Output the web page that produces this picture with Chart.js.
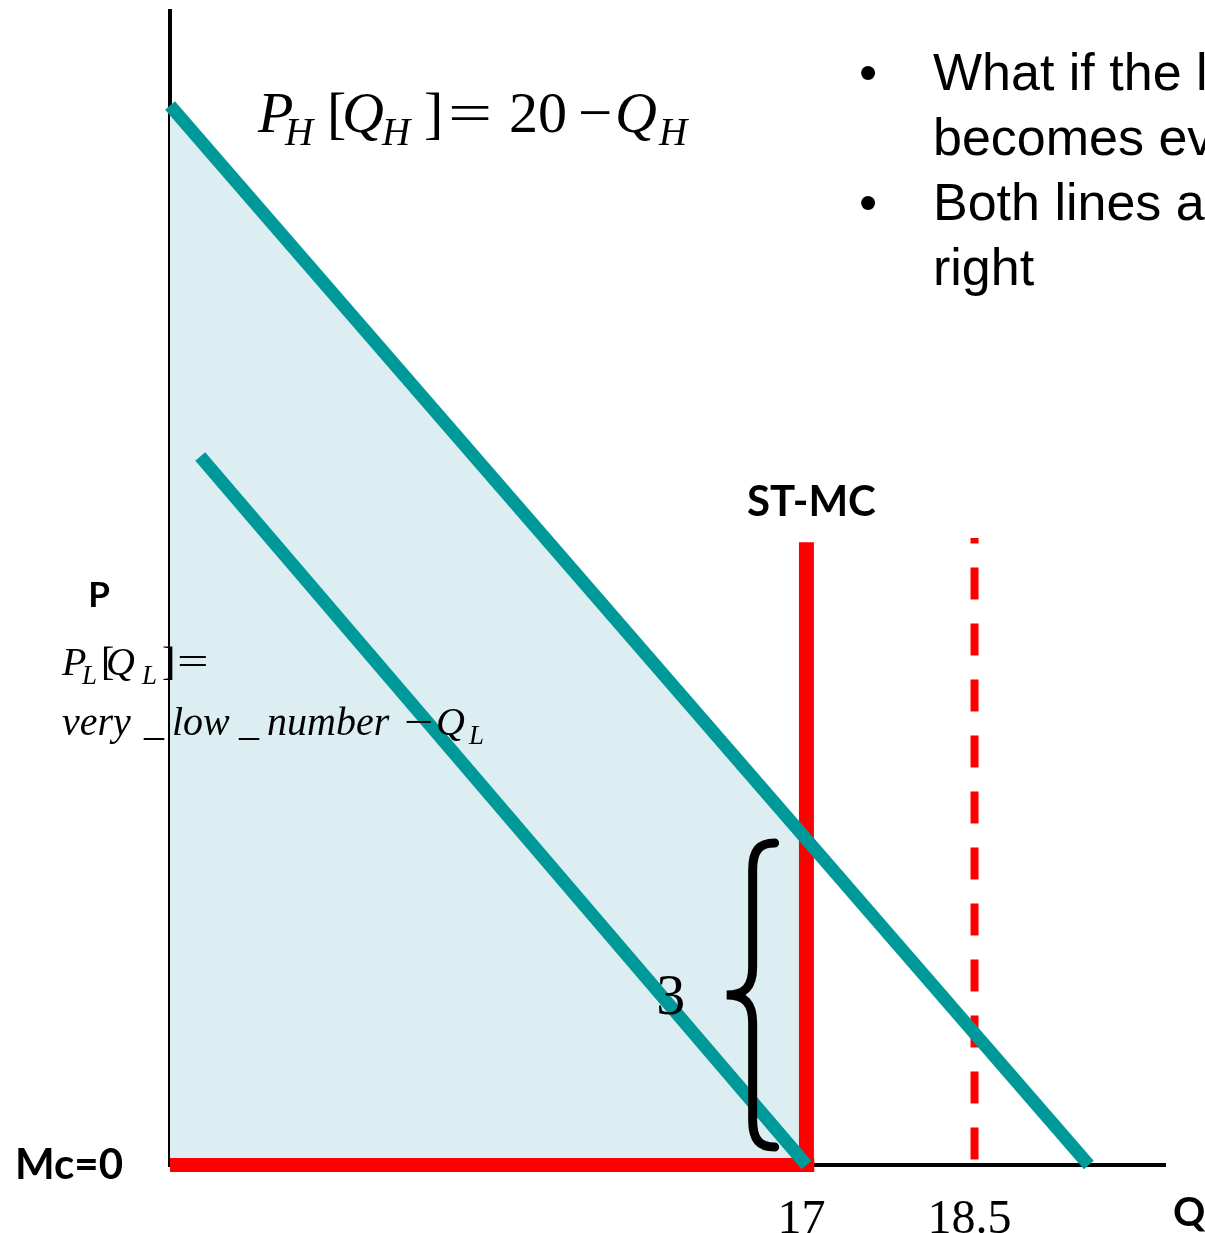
<!DOCTYPE html>
<html>
<head>
<meta charset="utf-8">
<title>Peak-load pricing: high and low demand</title>
<script src="https://cdn.jsdelivr.net/npm/chart.js@4.4.1/dist/chart.umd.min.js"></script>
<style>
  html, body { margin: 0; padding: 0; background: #fff; }
  #wrap { position: relative; width: 1205px; height: 1233px; }
</style>
</head>
<body>
<div id="wrap"><canvas id="chart"></canvas></div>
<script>
// Quantity (Q) and price (P) values of each line, in axis units
const qTicks = [17, 18.5];
const priceTicks = [0];
const priceTickLabels = ['Mc=0'];

const highDemandQ = [11.32, 19.52];
const highDemandP = [9.75, 0];
const lowDemandQ = [11.59, 17];
const lowDemandP = [6.52, 0];
const surplusQ = [11.32, 17];
const surplusP = [9.75, 3];
const stMcQ = [17, 17];
const stMcP = [0, 5.73];
const newMcQ = [18.5, 18.5];
const newMcP = [0.05, 5.77];
const mcZeroQ = [11.32, 17.07];
const mcZeroP = [0, 0];

// gap between high demand and ST-MC at capacity
const gapQ = 16.52;
const gapRange = [0, 3];

const bullets = [
    ['\u2022', 'What if the low demand'],
    ['', 'becomes even lower?'],
    ['\u2022', 'Both lines are shifted to the'],
    ['', 'right']
];

const TEAL = '#009999';
const RED = '#ff0000';
const SURPLUS = '#dceef1';

function points(qs, ps) {
    return qs.map((q, i) => ({ x: q, y: ps[i] }));
}

function line(data, color, width, extra) {
    return Object.assign({
        data: data,
        borderColor: color,
        borderWidth: width,
        borderCapStyle: 'butt',
        pointRadius: 0,
        fill: false,
        tension: 0,
        clip: false
    }, extra || {});
}

// draws a run of math text pieces: [text, style, dx, horizontal stretch]
function drawRuns(ctx, x0, base, size, runs) {
    runs.forEach(([text, kind, dx, sx]) => {
        const sub = kind === 'sub';
        const s = sub ? Math.round(size * 0.68) : size;
        ctx.font = (kind === 'r' ? '' : 'italic ') + s + 'px "Liberation Serif"';
        ctx.save();
        ctx.translate(x0 + dx, base + (sub ? size * 0.22 : 0));
        ctx.scale(sx || 1, 1);
        ctx.fillText(text, 0, 0);
        ctx.restore();
    });
}

const annotations = {
    id: 'annotations',
    afterDatasetsDraw(chart) {
        const ctx = chart.ctx;
        const x = chart.scales.x;
        const y = chart.scales.y;
        ctx.save();
        ctx.fillStyle = '#000';
        ctx.strokeStyle = '#000';
        ctx.textAlign = 'left';
        ctx.textBaseline = 'alphabetic';

        // high demand equation
        drawRuns(ctx, 258, 132, 58, [
            ['P', 'i', 0], ['H', 'sub', 27], ['[', 'r', 69], ['Q', 'i', 84],
            ['H', 'sub', 124], [']', 'r', 166], ['=', 'r', 190, 1.35], ['20', 'r', 251],
            ['\u2212', 'r', 320, 1.05], ['Q', 'i', 357], ['H', 'sub', 401]
        ]);

        // low demand equation
        drawRuns(ctx, 62, 675, 40, [
            ['P', 'i', 0], ['L', 'sub', 20], ['[', 'r', 39], ['Q', 'i', 44],
            ['L', 'sub', 80], [']', 'r', 100], ['=', 'r', 115, 1.4]
        ]);
        drawRuns(ctx, 62, 735, 40, [
            ['very', 'i', 0], ['_', 'i', 82], ['low', 'i', 110], ['_', 'i', 177],
            ['number', 'i', 205], ['\u2212', 'r', 342, 1.3], ['Q', 'i', 374], ['L', 'sub', 407]
        ]);

        // brace for the price gap at capacity
        const bx = x.getPixelForValue(gapQ);
        const top = y.getPixelForValue(gapRange[1]) + 4;
        const bot = y.getPixelForValue(gapRange[0]) - 18;
        const mid = (top + bot) / 2;
        ctx.lineWidth = 9;
        ctx.lineCap = 'round';
        ctx.beginPath();
        ctx.moveTo(bx + 22, top);
        ctx.bezierCurveTo(bx + 7, top, bx, top + 7, bx, top + 27);
        ctx.lineTo(bx, mid - 28);
        ctx.bezierCurveTo(bx, mid - 8, bx - 8, mid, bx - 26, mid);
        ctx.bezierCurveTo(bx - 8, mid, bx, mid + 8, bx, mid + 28);
        ctx.lineTo(bx, bot - 27);
        ctx.bezierCurveTo(bx, bot - 7, bx + 7, bot, bx + 22, bot);
        ctx.stroke();

        ctx.textAlign = 'center';
        ctx.textBaseline = 'middle';
        ctx.font = '58px "Liberation Serif"';
        ctx.fillText(String(gapRange[1] - gapRange[0]), bx - 82, mid + 4);

        // axis and curve labels
        ctx.textBaseline = 'alphabetic';
        ctx.font = 'bold 42px Lato';
        ctx.fillText('ST-MC', x.getPixelForValue(stMcQ[0]) + 5, 516);
        ctx.font = 'bold 35px Lato';
        ctx.fillText('P', 99, 607);
        ctx.textAlign = 'left';
        ctx.font = 'bold 40px Lato';
        ctx.fillText('Q', x.right + 8, 1226);

        // bullet notes
        ctx.font = '52px "Liberation Sans"';
        bullets.forEach(([mark, text], i) => {
            const base = 90 + i * 65;
            if (mark) ctx.fillText(mark, 859, base);
            ctx.fillText(text, 933, base);
        });
        ctx.restore();
    }
};

new Chart(document.getElementById('chart'), {
    type: 'line',
    data: {
        datasets: [
            line(points(highDemandQ, highDemandP), TEAL, 13),
            line(points(lowDemandQ, lowDemandP), TEAL, 13),
            line(points(stMcQ, stMcP), RED, 15),
            line(points(newMcQ, newMcP), RED, 8, { borderDash: [32, 24] }),
            line(points(mcZeroQ, mcZeroP), RED, 14),
            line(points(surplusQ, surplusP), 'rgba(0,0,0,0)', 0, {
                fill: 'origin',
                backgroundColor: SURPLUS
            })
        ]
    },
    options: {
        responsive: true,
        maintainAspectRatio: false,
        animation: false,
        events: [],
        layout: { padding: { top: 11, right: 40, left: 0, bottom: 0 } },
        plugins: {
            legend: { display: false },
            tooltip: { enabled: false }
        },
        scales: {
            x: {
                type: 'linear',
                min: 11.32,
                max: 20.2,
                grid: { display: false },
                border: { display: true, color: '#000', width: 4 },
                afterFit: s => {
                    s.height = 68;
                    s.paddingLeft = 0;
                    s.paddingRight = 0;
                },
                afterBuildTicks: s => { s.ticks = qTicks.map(v => ({ value: v })); },
                ticks: {
                    autoSkip: false,
                    maxRotation: 0,
                    padding: 19,
                    labelOffset: -5,
                    color: '#000',
                    font: { family: '"Liberation Serif"', size: 48 },
                    callback: v => String(v)
                }
            },
            y: {
                type: 'linear',
                min: 0,
                max: 10.62,
                grid: { display: false },
                border: { display: true, color: '#000', width: 4 },
                afterFit: s => {
                    s.width = 170;
                    s.paddingTop = 0;
                    s.paddingBottom = 0;
                },
                afterBuildTicks: s => { s.ticks = priceTicks.map(v => ({ value: v })); },
                ticks: {
                    padding: 39,
                    color: '#000',
                    font: { family: 'Lato', size: 42, weight: 'bold' },
                    callback: (v, i) => priceTickLabels[i]
                }
            }
        }
    },
    plugins: [annotations]
});
</script>
</body>
</html>
